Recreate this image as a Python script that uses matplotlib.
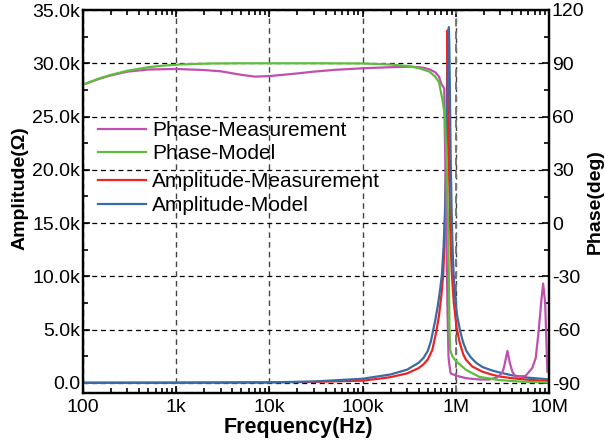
import matplotlib
matplotlib.use("Agg")
import matplotlib.pyplot as plt
from matplotlib.ticker import FixedLocator, MultipleLocator, LogLocator, NullFormatter

plt.rcParams['font.family'] = ['Liberation Sans', 'DejaVu Sans']

# ---------------- data ----------------
# Amplitude-Model (kOhm)
amp_model_f = [100, 1e3, 1e4, 3e4, 1e5, 2e5, 3e5, 4e5, 4.5e5, 5e5, 5.4e5, 5.7e5, 6e5, 6.4e5, 6.8e5,
               7.1e5, 7.4e5, 7.65e5, 7.9e5, 8.1e5, 8.28e5, 8.43e5, 8.53e5, 8.65e5, 8.8e5, 9e5,
               9.25e5, 9.5e5, 9.85e5, 1.03e6, 1.11e6, 1.2e6, 1.3e6, 1.45e6, 1.65e6, 1.93e6,
               2.4e6, 2.9e6, 4e6, 6e6, 1e7]
amp_model = [0.02, 0.03, 0.06, 0.14, 0.4, 0.8, 1.25, 1.9, 2.35, 3.0, 3.9, 4.9, 5.8, 7.2, 8.8,
             10.2, 12.8, 16.0, 21.0, 26.5, 31.2, 33.4, 31.5, 27.0, 21.5, 16.5,
             12.5, 10.0, 8.0, 6.4, 4.9, 3.8, 3.0, 2.4, 1.9, 1.5,
             1.2, 1.0, 0.72, 0.5, 0.34]

# Amplitude-Measurement (kOhm)
amp_meas_f = [100, 1e3, 1e4, 3e4, 1e5, 1.5e5, 2e5, 3e5, 4e5, 4.5e5, 5e5, 5.6e5, 6.2e5, 6.6e5, 7e5,
              7.33e5, 7.6e5, 7.85e5, 8e5, 8.1e5, 8.17e5, 8.24e5, 8.36e5, 8.5e5, 8.7e5, 8.9e5,
              9.06e5, 9.5e5, 1.02e6, 1.1e6, 1.2e6, 1.28e6, 1.5e6, 1.93e6, 2.4e6, 2.9e6, 4e6,
              6e6, 1e7]
amp_meas = [0.02, 0.03, 0.05, 0.1, 0.22, 0.4, 0.55, 0.9, 1.4, 1.75, 2.2, 3.1, 4.9, 6.3, 8.2,
            10.2, 13.5, 19.5, 25.5, 31.0, 33.1, 31.0, 25.0, 19.0, 14.5, 12.0,
            10.3, 7.6, 5.2, 3.8, 2.7, 2.2, 1.55, 1.06, 0.8, 0.62, 0.45,
            0.3, 0.19]

# Phase-Model (deg)
ph_model_f = [100, 150, 200, 300, 500, 700, 1e3, 1.5e3, 2.5e3, 5e3, 1e4, 3e4, 1e5, 2e5, 3e5,
              4e5, 5.2e5, 6e5, 6.6e5, 7.2e5, 7.65e5, 8e5, 8.26e5, 8.43e5, 8.55e5, 8.71e5,
              9.2e5, 1.0e6, 1.28e6, 1.78e6, 2.9e6, 5e6, 1e7]
ph_model = [78.0, 81.5, 83.5, 85.8, 87.8, 88.6, 89.2, 89.6, 89.9, 90.0, 90.0, 90.0, 89.9, 89.3, 88.5,
            87.3, 85.3, 82.5, 79.3, 69.3, 60.0, 30.0, 0.0, -30.0, -60.0, -71.5,
            -75.0, -77.5, -82.5, -86.5, -88.3, -89.2, -89.7]

# Phase-Measurement (deg)
ph_meas_f = [100, 150, 200, 300, 500, 1e3, 2e3, 3e3, 5e3, 7e3, 1e4, 2e4, 3e4, 5e4, 1e5, 2e5,
             3.4e5, 4.5e5, 5.2e5, 6e5, 6.6e5, 7e5, 7.52e5, 7.6e5, 7.8e5, 8e5, 8.15e5, 8.35e5,
             8.5e5, 8.8e5, 1.0e6, 1.3e6, 1.8e6, 2.3e6, 2.78e6, 3.15e6, 3.3e6, 3.58e6, 3.8e6,
             4.05e6, 4.4e6, 5.6e6, 6.6e6, 7.2e6, 7.7e6, 8.3e6, 8.65e6, 9.1e6, 9.6e6, 1e7]
ph_meas = [78.0, 81.3, 83.2, 85.3, 86.5, 86.8, 86.2, 85.5, 83.5, 82.5, 82.8, 84.3, 85.3, 86.3, 87.2, 87.8,
           88.1, 87.5, 86.6, 85.0, 82.5, 78.4, 75.8, 55.0, 20.0, -20.0, -50.0, -75.0,
           -79.0, -84.5, -85.8, -87.3, -88.0, -88.0, -86.8, -84.2, -80.8, -71.9, -78.7,
           -83.7, -86.5, -86.0, -81.6, -76.0, -62.0, -43.0, -34.0, -45.0, -83.7, -83.0]

x_ticks = [1e2, 1e3, 1e4, 1e5, 1e6, 1e7]
x_tick_labels = ['100', '1k', '10k', '100k', '1M', '10M']
amp_ticks = [0, 5, 10, 15, 20, 25, 30, 35]
amp_tick_labels = ['0.0', '5.0k', '10.0k', '15.0k', '20.0k', '25.0k', '30.0k', '35.0k']
ph_ticks = [-90, -60, -30, 0, 30, 60, 90, 120]

c_pm = '#C04FB0'
c_pmod = '#5DBE3C'
c_am = '#EE2424'
c_amod = '#3B6BA3'

# ---------------- figure ----------------
fig = plt.figure(figsize=(6.05, 4.44), dpi=100)
ax = fig.add_axes([83/605, 1-393/444, (549-83)/605, (393-10)/444])
ax2 = ax.twinx()

l_am, = ax.plot(amp_meas_f, amp_meas, color=c_am, lw=1.6)
l_amod, = ax.plot(amp_model_f, amp_model, color=c_amod, lw=1.6)
l_pm, = ax2.plot(ph_meas_f, ph_meas, color=c_pm, lw=1.6)
l_pmod, = ax2.plot(ph_model_f, ph_model, color=c_pmod, lw=1.6)

ax.set_xscale('log')
ax.set_xlim(100, 1e7)
ax.set_ylim(-0.94, 35)
ax2.set_ylim(-95.6, 120)

ax.xaxis.set_major_locator(FixedLocator(x_ticks))
ax.set_xticklabels(x_tick_labels)
ax.xaxis.set_minor_locator(LogLocator(base=10, subs=range(2, 10), numticks=20))
ax.xaxis.set_minor_formatter(NullFormatter())
ax.yaxis.set_major_locator(FixedLocator(amp_ticks))
ax.set_yticklabels(amp_tick_labels)
ax.yaxis.set_minor_locator(MultipleLocator(2.5))
ax2.yaxis.set_major_locator(FixedLocator(ph_ticks))
ax2.set_yticklabels([str(t) for t in ph_ticks])
ax2.yaxis.set_minor_locator(MultipleLocator(15))

ax.tick_params(axis='x', which='both', direction='in', top=True, labelsize=14, pad=4)
ax.tick_params(axis='y', which='both', direction='in', labelsize=14, pad=2)
ax2.tick_params(axis='y', which='both', direction='in', labelsize=14, pad=2)
for a in (ax, ax2):
    a.tick_params(which='major', length=5, width=1.2)
    a.tick_params(which='minor', length=3.5, width=1.2)
    for s in a.spines.values():
        s.set_linewidth(1.6)

ax.yaxis.grid(True, which='major', ls=(0, (4, 3)), color='black', lw=0.9)
ax.xaxis.grid(True, which='major', ls=(0, (4, 3)), color='#444444', lw=1.0)
ax.axvline(1e6, ls=(0, (4, 2.5)), color='#777777', lw=1.4, zorder=1.2)
ax.set_axisbelow(True)

ax.set_xlabel('Frequency(Hz)', fontsize=15.5, fontweight='bold')
ax.xaxis.set_label_coords((298 - 83) / 466, -24 / 383)
ax.set_ylabel('Amplitude(Ω)', fontsize=14, fontweight='bold')
ax.yaxis.set_label_coords(-54 / 466, (393 - 188) / 383)
ax2.set_ylabel('Phase(deg)', fontsize=14, fontweight='bold', labelpad=2)

leg1 = ax2.legend([l_pm, l_pmod], ['Phase-Measurement', 'Phase-Model'],
                  loc='upper left', bbox_to_anchor=(98/605, 1-121/444),
                  bbox_transform=fig.transFigure, frameon=False, fontsize=15,
                  handlelength=2.3, handletextpad=0.3, labelspacing=0.2, borderpad=0,
                  borderaxespad=0)
ax2.add_artist(leg1)
leg2 = ax2.legend([l_am, l_amod], ['Amplitude-Measurement', 'Amplitude-Model'],
                  loc='upper left', bbox_to_anchor=(98/605, 1-172/444),
                  bbox_transform=fig.transFigure, frameon=False, fontsize=15,
                  handlelength=2.3, handletextpad=0.3, labelspacing=0.25, borderpad=0,
                  borderaxespad=0)

fig.savefig('out.png', dpi=100)
